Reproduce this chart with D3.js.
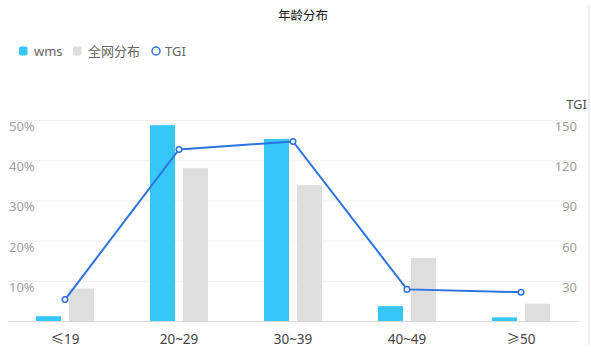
<!DOCTYPE html>
<html>
<head>
<meta charset="utf-8">
<script src="https://cdn.jsdelivr.net/npm/d3@7"></script>
<style>
  body { margin: 0; background: #fff; }
  svg { display: block; font-family: "Noto Sans", "Noto Sans CJK SC", sans-serif; }
</style>
</head>
<body>
<svg id="chart" width="591" height="352"></svg>
<script>
// data
var categories = ["≤19", "20~29", "30~39", "40~49", "≥50"];
var wms = [1.2, 48.7, 45.3, 3.7, 0.9];      // %
var allNet = [8.1, 38.0, 33.8, 15.7, 4.3];  // %
var tgi = [16, 128, 134, 23.6, 21.5];
var leftTicks = [0, 10, 20, 30, 40, 50];
var rightTicks = [0, 30, 60, 90, 120, 150];

var W = 591, H = 352;
var MARGIN = {left: 8, right: 13, top: 120, bottom: 31};
var BAR_W = 25, GAP = 8;

var svg = d3.select("#chart");

// right border line
svg.append("line")
  .attr("x1", 589).attr("x2", 589).attr("y1", 5).attr("y2", 345)
  .attr("stroke", "#e2e2e2");

var x = d3.scaleBand()
  .domain(categories)
  .range([MARGIN.left, W - MARGIN.right]);
var yL = d3.scaleLinear().domain([0, 50]).range([H - MARGIN.bottom, MARGIN.top]);
var yR = d3.scaleLinear().domain([0, 150]).range([H - MARGIN.bottom, MARGIN.top]);

// grid
svg.append("g").selectAll("line").data(leftTicks.slice(1)).enter().append("line")
  .attr("x1", MARGIN.left).attr("x2", W - MARGIN.right)
  .attr("y1", function(d){ return yL(d) + 0.5 })
  .attr("y2", function(d){ return yL(d) + 0.5 })
  .attr("stroke", "#f0f0f0");

// title
svg.append("text")
  .attr("x", 303).attr("y", 20)
  .attr("text-anchor", "middle")
  .attr("font-size", 12.5).attr("fill", "#111")
  .attr("font-family", "Noto Sans CJK SC")
  .text("年龄分布");

// legend
var lg = svg.append("g").attr("font-size", 13).attr("fill", "#666");
lg.append("rect").attr("x", 19).attr("y", 46.5).attr("width", 8.5).attr("height", 9).attr("rx", 2).attr("fill", "#36c6f8");
lg.append("text").attr("x", 34).attr("y", 56).text("wms");
lg.append("rect").attr("x", 73).attr("y", 46.5).attr("width", 8.5).attr("height", 9).attr("rx", 2).attr("fill", "#dedede");
lg.append("text").attr("x", 88).attr("y", 56).text("全网分布");
lg.append("circle").attr("cx", 156).attr("cy", 51).attr("r", 4).attr("fill", "#fff").attr("stroke", "#2b73e0").attr("stroke-width", 1.5);
lg.append("text").attr("x", 165).attr("y", 56).text("TGI");

// axis tick labels (drawn inside the plot)
svg.append("g").selectAll("text").data(leftTicks.slice(1)).enter().append("text")
  .attr("x", 9).attr("y", function(d){ return yL(d) + 11 })
  .attr("font-size", 13).attr("fill", "#a0a0a0")
  .text(function(d){ return d + "%" });

svg.append("g").selectAll("text").data(rightTicks.slice(1)).enter().append("text")
  .attr("x", 577).attr("y", function(d){ return yR(d) + 11 })
  .attr("text-anchor", "end")
  .attr("font-size", 13).attr("fill", "#a0a0a0")
  .text(function(d){ return d });

svg.append("text")
  .attr("x", 587).attr("y", 109)
  .attr("text-anchor", "end")
  .attr("font-size", 13).attr("fill", "#555")
  .text("TGI");

// bars
var cx = function(d){ return x(d) + x.bandwidth() / 2 };
svg.append("g").selectAll("rect").data(categories).enter().append("rect")
  .attr("x", function(d){ return cx(d) - GAP / 2 - BAR_W })
  .attr("y", function(d, i){ return yL(wms[i]) })
  .attr("width", BAR_W)
  .attr("height", function(d, i){ return yL(0) - yL(wms[i]) })
  .attr("fill", "#36c6f8");
svg.append("g").selectAll("rect").data(categories).enter().append("rect")
  .attr("x", function(d){ return cx(d) + GAP / 2 })
  .attr("y", function(d, i){ return yL(allNet[i]) })
  .attr("width", BAR_W)
  .attr("height", function(d, i){ return yL(0) - yL(allNet[i]) })
  .attr("fill", "#dedede");

// baseline
svg.append("line")
  .attr("x1", MARGIN.left).attr("x2", W - MARGIN.right)
  .attr("y1", yL(0) + 0.5).attr("y2", yL(0) + 0.5)
  .attr("stroke", "#d8d8d8");

// x labels
svg.append("g").selectAll("text").data(categories).enter().append("text")
  .attr("x", cx).attr("y", 344)
  .attr("text-anchor", "middle")
  .attr("font-size", 13.5).attr("fill", "#444")
  .text(function(d){ return d });

// TGI line
var line = d3.line()
  .x(function(d, i){ return cx(categories[i]) })
  .y(function(d){ return yR(d) });
svg.append("path").datum(tgi)
  .attr("d", line)
  .attr("fill", "none")
  .attr("stroke", "#2b73e0").attr("stroke-width", 2);
svg.append("g").selectAll("circle").data(tgi).enter().append("circle")
  .attr("cx", function(d, i){ return cx(categories[i]) })
  .attr("cy", function(d){ return yR(d) })
  .attr("r", 2.8)
  .attr("fill", "#fff").attr("stroke", "#2b73e0").attr("stroke-width", 1.5);
</script>
</body>
</html>
